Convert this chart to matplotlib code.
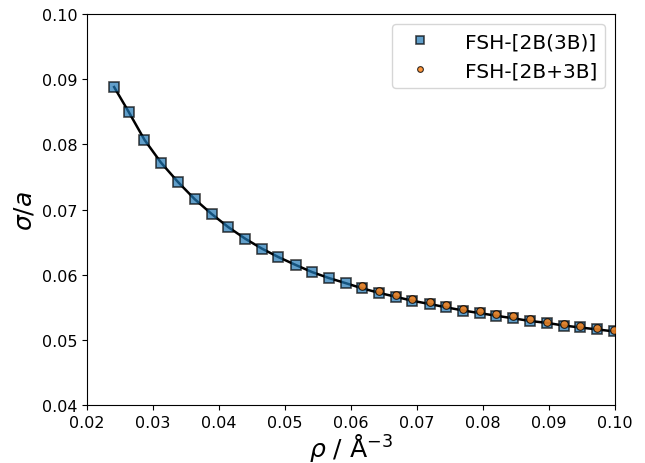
import matplotlib
matplotlib.use("Agg")
import matplotlib.pyplot as plt
import numpy as np

# FSH-[2B(3B)] data (squares, also used for the black line)
rho_2b3b = [0.0241, 0.0263, 0.0287, 0.0312, 0.0338, 0.0363, 0.0389, 0.0414,
            0.0440, 0.0465, 0.0490, 0.0516, 0.0541, 0.0566, 0.0592, 0.0617,
            0.0643, 0.0668, 0.0693, 0.0719, 0.0744, 0.0770, 0.0795, 0.0820,
            0.0846, 0.0871, 0.0897, 0.0922, 0.0947, 0.0973, 0.0998]
sig_2b3b = [0.0888, 0.0850, 0.0807, 0.0772, 0.0742, 0.0716, 0.0693, 0.0673,
            0.0655, 0.0640, 0.0627, 0.0615, 0.0604, 0.0595, 0.0587, 0.0579,
            0.0572, 0.0566, 0.0560, 0.0555, 0.0550, 0.0545, 0.0541, 0.0537,
            0.0533, 0.0529, 0.0526, 0.0522, 0.0519, 0.0516, 0.0513]

# FSH-[2B+3B] data (circles)
rho_2b_3b = [0.0617, 0.0643, 0.0668, 0.0693, 0.0719, 0.0744, 0.0770, 0.0795,
             0.0820, 0.0846, 0.0871, 0.0897, 0.0922, 0.0947, 0.0973, 0.0998]
sig_2b_3b = [0.0582, 0.0575, 0.0569, 0.0563, 0.0558, 0.0553, 0.0548, 0.0544,
             0.0540, 0.0536, 0.0532, 0.0528, 0.0525, 0.0521, 0.0518, 0.0515]

fig = plt.figure(figsize=(6.45, 4.64), dpi=100)
ax = fig.add_axes([0.135, 0.125, 0.8185, 0.8425])

ax.plot(rho_2b3b, sig_2b3b, color='k', lw=1.8, zorder=1)
ax.plot(rho_2b3b, sig_2b3b, 's', ms=7, color='tab:blue', mec='k', mew=1.2,
        alpha=0.7, ls='none', label='FSH-[2B(3B)]', zorder=2)
ax.plot(rho_2b_3b, sig_2b_3b, 'o', ms=5.5, color='tab:orange', mec='k', mew=0.8,
        alpha=0.8, ls='none', label='FSH-[2B+3B]', zorder=3)

ax.set_xlim(0.02, 0.10)
ax.set_ylim(0.04, 0.10)
ax.set_xticks(np.arange(0.02, 0.1001, 0.01))
ax.set_yticks(np.arange(0.04, 0.1001, 0.01))
ax.xaxis.set_major_formatter(matplotlib.ticker.FormatStrFormatter('%.2f'))
ax.yaxis.set_major_formatter(matplotlib.ticker.FormatStrFormatter('%.2f'))
ax.tick_params(labelsize=11.5)

ax.set_xlabel(r'$\rho$ / Å$^{-3}$', fontsize=18, labelpad=1)
ax.set_ylabel(r'$\sigma/a$', fontsize=18)

ax.legend(loc='upper right', fontsize=14.5, markerscale=0.75, handletextpad=1.2)

fig.savefig('out.png', dpi=100)
